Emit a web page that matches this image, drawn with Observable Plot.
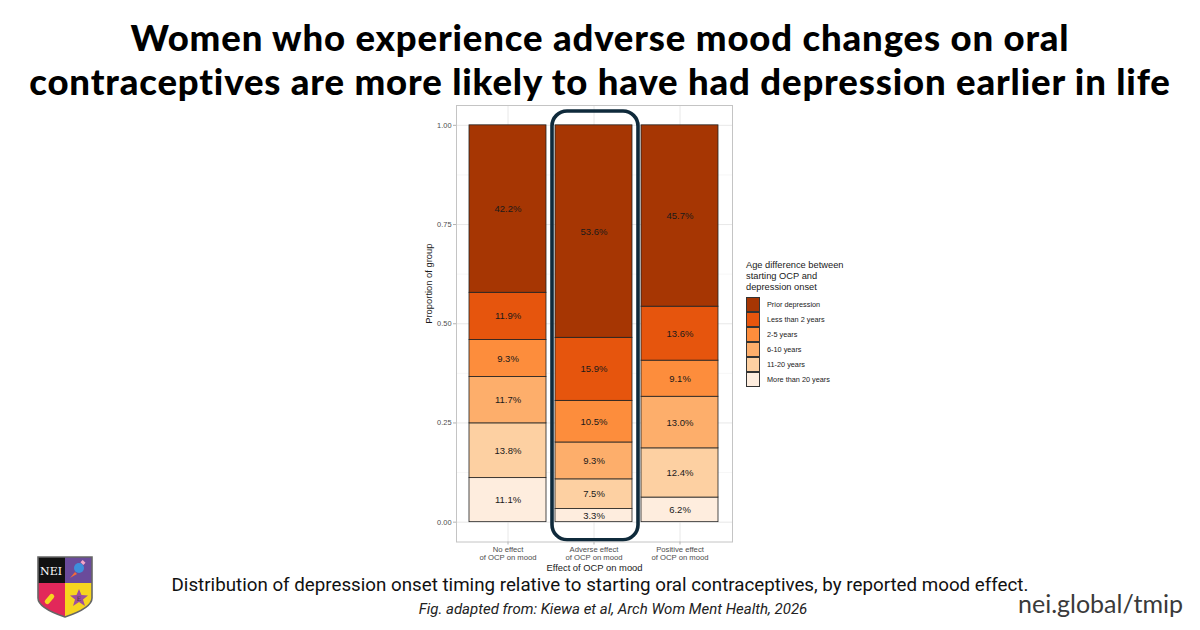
<!DOCTYPE html>
<html><head><meta charset="utf-8">
<script src="https://cdn.jsdelivr.net/npm/d3@7"></script>
<script src="https://cdn.jsdelivr.net/npm/@observablehq/plot@0.6"></script>
<style>
html,body{margin:0;padding:0;background:#fff;}
#root{position:relative;width:1200px;height:630px;overflow:hidden;background:#fff;}
.title{position:absolute;left:0;width:1200px;height:44px;text-align:center;font-family:Lato,sans-serif;font-weight:900;font-size:36.5px;line-height:44px;letter-spacing:0.85px;color:#000;white-space:nowrap;}
#t1{top:15px;}
#t2{top:59px;}
#chart{position:absolute;left:400px;top:100px;}
#legend{position:absolute;left:746px;top:260px;font-family:"Liberation Sans",Arial,sans-serif;color:#1a1a1a;}
#legend .lt{font-size:9.3px;line-height:11px;margin-bottom:4px;}
#legend .row{display:flex;align-items:center;height:15px;}
#legend .sw{width:12px;height:13px;border:1px solid #333;box-sizing:content-box;}
#legend .lb{font-size:7.3px;margin-left:7px;color:#1a1a1a;}
#caption{position:absolute;left:0;top:575px;width:1200px;text-align:center;font-family:Roboto,sans-serif;font-size:18.75px;line-height:20px;color:#111;white-space:nowrap;}
#source{position:absolute;left:13px;top:600px;width:1200px;text-align:center;font-family:Roboto,sans-serif;font-style:italic;font-size:15px;line-height:18px;color:#222;white-space:nowrap;}
#url{position:absolute;right:17px;top:589px;font-family:Lato,sans-serif;font-size:25px;line-height:28px;color:#3a3a3a;white-space:nowrap;}
#logo{position:absolute;left:37px;top:556px;}
</style></head>
<body>
<div id="root">
  <div class="title" id="t1">Women who experience adverse mood changes on oral</div>
  <div class="title" id="t2">contraceptives are more likely to have had depression earlier in life</div>
  <div id="chart"></div>
  <div id="legend"></div>
  <svg id="logo" width="56" height="62" viewBox="0 0 56 62">
    <defs><clipPath id="sh"><path d="M1,1 H55 V42 Q55,52 28,61 Q1,52 1,42 Z"/></clipPath></defs>
    <g clip-path="url(#sh)">
      <rect x="0" y="0" width="28" height="27" fill="#111"/>
      <rect x="28" y="0" width="28" height="27" fill="#6a4b9b"/>
      <rect x="0" y="27" width="28" height="36" fill="#e2285a"/>
      <rect x="28" y="27" width="28" height="36" fill="#f6d51f"/>
      <text x="14" y="19" text-anchor="middle" font-family="DejaVu Serif,serif" font-size="11" fill="#fff">NEI</text>
      <circle cx="42" cy="12" r="5" fill="#3d8fdc"/>
      <path d="M38,16 L33,22 L40,18 Z" fill="#f26b3a"/>
      <rect x="44" y="5" width="4" height="3" fill="#f5a6c8" transform="rotate(45 46 6.5)"/>
      <rect x="10" y="37" width="5" height="12" rx="2.5" fill="#f6d51f" transform="rotate(40 12.5 43)"/>
      <path d="M42,33 L44.5,39 L51,39.5 L46,43.5 L48,50 L42,46 L36,50 L38,43.5 L33,39.5 L39.5,39 Z" fill="#9c4e9f"/>
      <text x="42" y="45" text-anchor="middle" font-family="DejaVu Serif,serif" font-size="6" fill="#333">E</text>
    </g>
    <path d="M1,1 H55 V42 Q55,52 28,61 Q1,52 1,42 Z" fill="none" stroke="#666" stroke-width="1.6"/>
  </svg>
  <div id="caption">Distribution of depression onset timing relative to starting oral contraceptives, by reported mood effect.</div>
  <div id="source">Fig. adapted from: Kiewa et al, Arch Wom Ment Health, 2026</div>
  <div id="url">nei.global/tmip</div>
</div>
<script>
const groups = ["No effect of OCP on mood", "Adverse effect of OCP on mood", "Positive effect of OCP on mood"];
const groupLabels = ["No effect\nof OCP on mood", "Adverse effect\nof OCP on mood", "Positive effect\nof OCP on mood"];
// bottom to top of each stack
const categories = ["More than 20 years", "11-20 years", "6-10 years", "2-5 years", "Less than 2 years", "Prior depression"];
const noEffect = [11.1, 13.8, 11.7, 9.3, 11.9, 42.2];
const adverse = [3.3, 7.5, 9.3, 10.5, 15.9, 53.6];
const positive = [6.2, 12.4, 13.0, 9.1, 13.6, 45.7];
const colors = ["#FEEDDE", "#FDD0A2", "#FDAE6B", "#FD8D3C", "#E6550D", "#A63603"];
const yTicks = [0, 0.25, 0.5, 0.75, 1];
const yMinor = [0.125, 0.375, 0.625, 0.875];
const yDomain = [-0.05, 1.05];
const legendTitle = ["Age difference between", "starting OCP and", "depression onset"];

const series = [noEffect, adverse, positive];
const rows = [];
groups.forEach((g, gi) => categories.forEach((c, ci) => rows.push({group: g, cat: c, value: series[gi][ci]})));

const chart = Plot.plot({
  width: 350, height: 480,
  marginLeft: 56, marginRight: 18, marginTop: 5, marginBottom: 38.5,
  style: {fontFamily: "Liberation Sans, Arial, sans-serif", fontSize: "7.5px", background: "transparent", overflow: "visible"},
  x: {domain: groups, paddingInner: 0.1, paddingOuter: 0.15, label: null},
  y: {domain: yDomain, label: null},
  color: {domain: categories, range: colors},
  marks: [
    Plot.frame({fill: "white"}),
    Plot.gridY(yMinor, {stroke: "#eeeeee", strokeOpacity: 1, strokeWidth: 0.5}),
    Plot.gridY(yTicks, {stroke: "#e2e2e2", strokeOpacity: 1, strokeWidth: 0.8}),
    Plot.gridX({stroke: "#e2e2e2", strokeOpacity: 1, strokeWidth: 0.8}),
    Plot.barY(rows, Plot.stackY({x: "group", y: "value", z: "cat", fill: "cat", offset: "normalize", stroke: "#222", strokeWidth: 0.8})),
    Plot.text(rows, Plot.stackY({x: "group", y: "value", z: "cat", offset: "normalize", text: d => d.value.toFixed(1) + "%", fontSize: 9.5, fill: "#1a1a1a"})),
    Plot.barY([groups[1]], {x: d => d, y1: () => yDomain[0], y2: () => yDomain[1], insetLeft: -3, insetRight: -6, insetTop: 6, insetBottom: 1.8, rx: 15, fill: "none", stroke: "#0f2a3b", strokeWidth: 3.6}),
    Plot.frame({stroke: "#c4c4c4"}),
    Plot.axisY(yTicks, {tickFormat: d3.format(".2f"), tickSize: 3, tickPadding: 2, stroke: "#b3b3b3", fill: "#4d4d4d", label: null, fontSize: 7.4}),
    Plot.axisX({tickFormat: d => groupLabels[groups.indexOf(d)], tickSize: 3, tickPadding: 1, stroke: "#b3b3b3", fill: "#4d4d4d", label: null, lineHeight: 1.05, fontSize: 7.7}),
    Plot.text(["Effect of OCP on mood"], {frameAnchor: "bottom", dy: 26, lineAnchor: "middle", fontSize: 9.4, fill: "#1a1a1a"}),
    Plot.text(["Proportion of group"], {frameAnchor: "left", dx: -28, rotate: -90, fontSize: 9.4, fill: "#1a1a1a"})
  ]
});
document.getElementById("chart").appendChild(chart);

const legend = document.getElementById("legend");
const lt = document.createElement("div");
lt.className = "lt";
lt.innerHTML = legendTitle.join("<br>");
legend.appendChild(lt);
categories.slice().reverse().forEach(c => {
  const row = document.createElement("div");
  row.className = "row";
  const sw = document.createElement("div");
  sw.className = "sw";
  sw.style.background = colors[categories.indexOf(c)];
  const lb = document.createElement("div");
  lb.className = "lb";
  lb.textContent = c;
  row.appendChild(sw); row.appendChild(lb);
  legend.appendChild(row);
});
</script>
</body></html>
